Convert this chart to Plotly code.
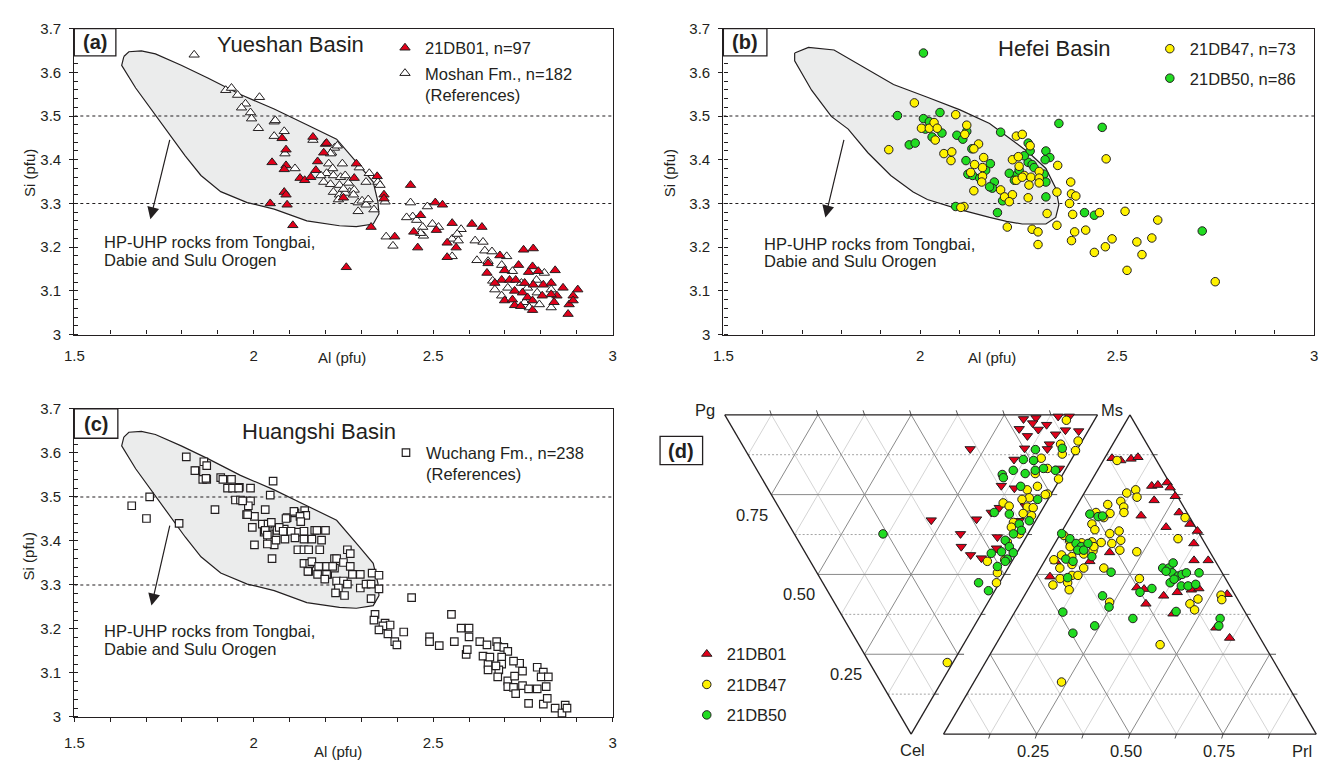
import plotly.graph_objects as go

W, H = 1325, 767
INK = "#231f20"
RED = "#e2001a"
YELLOW = "#fff200"
GREEN = "#21dc21"
FIELD = "#ebecec"
FONT = "Liberation Sans"

# ---------------- data: Al vs Si (pfu) ----------------
al_range = [1.5, 3.0]
si_range = [3.0, 3.7]
si_lines = [3.5, 3.3]

# (a) Yueshan Basin
a_21DB01 = [(2.165,3.452),(2.200,3.436),(2.090,3.423),(2.195,3.416),(2.079,3.449),(2.051,3.394),(2.090,3.387),
    (2.085,3.378),(2.178,3.396),(2.173,3.376),(2.129,3.358),(2.142,3.353),(2.159,3.360),(2.286,3.391),(2.344,3.362),
    (2.280,3.358),(2.085,3.326),(2.090,3.320),(2.046,3.300),(2.093,3.297),(2.250,3.313),(2.363,3.320),(2.363,3.311),
    (2.109,3.250),(2.327,3.246),(2.393,3.224),(2.203,3.438),(2.437,3.342),(2.506,3.302),(2.526,3.297),(2.465,3.273),
    (2.446,3.235),(2.509,3.239),(2.553,3.255),(2.608,3.253),(2.636,3.246),(2.539,3.210),(2.564,3.199),(2.457,3.199),
    (2.539,3.177),(2.258,3.154),(2.686,3.181),(2.752,3.194),(2.779,3.197),(2.653,3.163),(2.650,3.141),(2.738,3.159),
    (2.699,3.147),(2.691,3.125),(2.713,3.125),(2.730,3.125),(2.672,3.118),(2.777,3.156),(2.766,3.143),(2.793,3.145),
    (2.840,3.147),(2.755,3.118),(2.779,3.114),(2.807,3.114),(2.829,3.118),(2.862,3.107),(2.903,3.103),(2.890,3.089),
    (2.845,3.089),(2.829,3.092),(2.727,3.100),(2.749,3.096),(2.699,3.078),(2.721,3.080),(2.763,3.085),(2.777,3.078),
    (2.804,3.089),(2.837,3.074),(2.879,3.069),(2.890,3.078),(2.727,3.067),(2.744,3.065),(2.777,3.056),(2.876,3.047)]
a_moshan = [(1.834,3.640),(1.922,3.559),(1.938,3.564),(1.955,3.548),(2.016,3.543),(1.977,3.528),(1.966,3.519),
    (1.991,3.508),(1.994,3.494),(2.013,3.472),(2.057,3.487),(2.057,3.454),(2.085,3.465),(2.087,3.414),(2.115,3.380),
    (2.165,3.445),(2.217,3.416),(2.225,3.427),(2.060,3.490),(2.233,3.432),(2.214,3.414),(2.209,3.391),(2.247,3.391),
    (2.220,3.380),(2.203,3.369),(2.187,3.364),(2.222,3.364),(2.242,3.360),(2.255,3.364),(2.294,3.382),(2.322,3.369),
    (2.313,3.349),(2.346,3.349),(2.352,3.342),(2.195,3.349),(2.214,3.344),(2.239,3.342),(2.264,3.347),(2.267,3.326),
    (2.280,3.331),(2.222,3.326),(2.239,3.320),(2.278,3.320),(2.236,3.309),(2.255,3.324),(2.291,3.302),(2.302,3.306),
    (2.313,3.297),(2.335,3.286),(2.291,3.282),(2.366,3.304),(2.250,3.333),(2.319,3.309),(2.437,3.302),(2.443,3.270),
    (2.426,3.268),(2.454,3.262),(2.484,3.293),(2.471,3.246),(2.498,3.253),(2.515,3.246),(2.473,3.226),(2.465,3.232),
    (2.369,3.224),(2.388,3.203),(2.553,3.219),(2.570,3.215),(2.578,3.241),(2.567,3.230),(2.553,3.179),(2.617,3.215),
    (2.639,3.212),(2.644,3.192),(2.664,3.190),(2.622,3.170),(2.653,3.168),(2.705,3.179),(2.691,3.159),(2.721,3.145),
    (2.666,3.123),(2.672,3.103),(2.691,3.089),(2.708,3.107),(2.746,3.118),(2.763,3.107),(2.788,3.125),(2.810,3.141),
    (2.829,3.103),(2.790,3.096),(2.755,3.074),(2.768,3.062),(2.796,3.069),(2.829,3.062)]

# (b) Hefei Basin
b_21DB47 = [(1.985,3.530),(1.920,3.423),(2.003,3.472),(2.023,3.472),(2.035,3.485),(2.043,3.472),(2.038,3.445),
    (2.090,3.503),(2.118,3.479),(2.113,3.458),(2.060,3.414),(2.080,3.418),(2.078,3.398),(2.148,3.436),(2.136,3.425),
    (2.161,3.405),(2.138,3.389),(2.158,3.382),(2.158,3.362),(2.128,3.371),(2.156,3.349),(2.136,3.329),(2.111,3.293),
    (2.103,3.291),(2.244,3.454),(2.259,3.458),(2.279,3.432),(2.234,3.400),(2.249,3.407),(2.251,3.385),(2.264,3.364),
    (2.281,3.360),(2.302,3.373),(2.302,3.358),(2.302,3.347),(2.276,3.342),(2.244,3.353),(2.259,3.360),(2.204,3.331),
    (2.214,3.315),(2.234,3.320),(2.226,3.304),(2.274,3.313),(2.349,3.387),(2.347,3.326),(2.322,3.277),(2.347,3.250),
    (2.284,3.241),(2.299,3.235),(2.221,3.246),(2.382,3.349),(2.384,3.322),(2.379,3.300),(2.387,3.275),(2.472,3.402),
    (2.395,3.317),(2.299,3.206),(2.384,3.215),(2.392,3.235),(2.420,3.239),(2.455,3.279),(2.442,3.188),(2.470,3.201),
    (2.487,3.219),(2.520,3.282),(2.550,3.212),(2.563,3.183),(2.588,3.221),(2.603,3.262),(2.525,3.147),(2.749,3.121)]
b_21DB50 = [(2.008,3.644),(1.942,3.501),(2.008,3.494),(2.050,3.508),(2.023,3.487),(2.013,3.470),(2.030,3.452),
    (2.055,3.461),(1.972,3.434),(1.987,3.438),(2.093,3.456),(2.118,3.465),(2.108,3.447),(2.131,3.425),(2.116,3.398),
    (2.178,3.391),(2.166,3.376),(2.121,3.367),(2.133,3.364),(2.188,3.349),(2.183,3.335),(2.209,3.306),(2.204,3.463),
    (2.274,3.438),(2.279,3.420),(2.319,3.420),(2.329,3.405),(2.317,3.400),(2.274,3.394),(2.284,3.389),(2.244,3.364),
    (2.239,3.353),(2.314,3.367),(2.319,3.349),(2.319,3.315),(2.196,3.279),(2.090,3.293),(2.352,3.483),(2.462,3.474),
    (2.417,3.279),(2.442,3.273),(2.716,3.237),(2.151,3.358),(2.176,3.338),(2.251,3.376),(2.289,3.382),(2.264,3.409),
    (2.226,3.369)]

# (c) Huangshi Basin
c_wuchang = [(1.660,3.480),(1.710,3.500),(1.701,3.451),(1.792,3.440),(1.812,3.591),(1.839,3.560),(1.861,3.580),
    (1.869,3.571),(1.858,3.540),(1.869,3.540),(1.892,3.471),(1.908,3.544),(1.914,3.540),(1.938,3.540),(1.927,3.520),
    (1.941,3.520),(1.960,3.522),(1.949,3.493),(1.963,3.493),(1.991,3.520),(1.991,3.491),(1.985,3.480),(1.980,3.460),
    (2.002,3.456),(1.996,3.431),(2.002,3.391),(2.024,3.438),(2.029,3.420),(2.040,3.438),(2.043,3.416),(2.046,3.398),
    (2.051,3.360),(2.057,3.391),(2.062,3.402),(2.054,3.536),(2.046,3.504),(2.032,3.471),(2.065,3.424),(2.085,3.427),
    (2.093,3.453),(2.087,3.404),(2.115,3.464),(2.142,3.469),(2.145,3.458),(2.170,3.424),(2.200,3.424),(2.189,3.402),
    (2.120,3.420),(2.140,3.349),(2.156,3.349),(2.153,3.331),(2.184,3.342),(2.206,3.324),(2.225,3.338),(2.225,3.360),
    (2.184,3.380),(1.836,3.560),(1.867,3.542),(1.958,3.520),(1.969,3.491),(1.983,3.460),(2.049,3.442),(2.032,3.424),
    (2.071,3.431),(2.038,3.413),(2.090,3.451),(2.112,3.467),(2.129,3.456),(2.131,3.444),(2.082,3.422),(2.104,3.422),
    (2.140,3.422),(2.176,3.424),(2.115,3.407),(2.140,3.404),(2.162,3.404),(2.038,3.393),(2.123,3.380),(2.140,3.380),
    (2.153,3.380),(2.261,3.380),(2.269,3.371),(2.162,3.353),(2.181,3.342),(2.203,3.342),(2.220,3.342),(2.231,3.360),
    (2.250,3.351),(2.269,3.342),(2.151,3.331),(2.178,3.324),(2.203,3.324),(2.198,3.313),(2.231,3.309),(2.250,3.309),
    (2.275,3.324),(2.297,3.324),(2.330,3.327),(2.349,3.322),(2.236,3.293),(2.261,3.302),(2.228,3.282),(2.253,3.276),
    (2.297,3.293),(2.313,3.302),(2.327,3.302),(2.349,3.291),(2.327,3.269),(2.338,3.233),(2.335,3.220),(2.366,3.213),
    (2.380,3.209),(2.440,3.271),(2.360,3.207),(2.349,3.198),(2.374,3.189),(2.393,3.171),(2.399,3.164),(2.418,3.193),
    (2.551,3.233),(2.490,3.182),(2.490,3.171),(2.517,3.162),(2.559,3.171),(2.578,3.202),(2.600,3.202),(2.600,3.182),
    (2.592,3.142),(2.595,3.153),(2.630,3.171),(2.650,3.164),(2.639,3.138),(2.653,3.120),(2.658,3.136),(2.653,3.107),
    (2.677,3.171),(2.680,3.160),(2.697,3.158),(2.708,3.149),(2.691,3.136),(2.691,3.120),(2.683,3.107),(2.680,3.091),
    (2.708,3.082),(2.708,3.069),(2.724,3.067),(2.730,3.053),(2.727,3.093),(2.749,3.071),(2.749,3.104),(2.741,3.122),
    (2.724,3.127),(2.766,3.064),(2.790,3.064),(2.790,3.113),(2.807,3.102),(2.801,3.091),(2.821,3.091),(2.815,3.069),
    (2.766,3.031),(2.807,3.029),(2.818,3.042),(2.840,3.020),(2.859,3.009),(2.868,3.027),(2.873,3.020),(2.675,3.116)]

# HP-UHP field (Tongbai, Dabie, Sulu), outline in Al-Si space
field_ac = [(1.638,3.636),(1.652,3.647),(1.687,3.649),(1.726,3.642),(1.798,3.616),(1.872,3.587),(1.963,3.549),
    (2.057,3.516),(2.148,3.480),(2.231,3.447),(2.294,3.387),(2.333,3.349),(2.346,3.304),(2.349,3.276),(2.333,3.253),
    (2.286,3.247),(2.239,3.249),(2.148,3.260),(2.057,3.287),(1.982,3.302),(1.908,3.327),(1.853,3.364),(1.809,3.409),
    (1.770,3.453),(1.726,3.504),(1.671,3.564),(1.632,3.616)]
field_b = [(1.681,3.644),(1.716,3.657),(1.781,3.651),(1.849,3.615),(1.932,3.572),(2.018,3.543),(2.101,3.514),
    (2.176,3.483),(2.226,3.449),(2.276,3.416),(2.319,3.380),(2.344,3.335),(2.352,3.297),(2.344,3.268),(2.319,3.253),
    (2.259,3.253),(2.219,3.259),(2.176,3.268),(2.101,3.286),(2.018,3.309),(1.982,3.326),(1.925,3.364),(1.867,3.416),
    (1.817,3.470),(1.774,3.499),(1.724,3.559),(1.681,3.626)]

# arrows pointing to the field: (tail Al, tail Si, head Al, head Si)
arrow_a = (1.767, 3.449, 1.712, 3.264)
arrow_b = (1.807, 3.449, 1.759, 3.268)
arrow_c = (1.767, 3.438, 1.715, 3.253)

# (d) ternary data. Left triangle Pg-Ms-Cel: (Ms, Cel), Pg = 1 - Ms - Cel
dL_21DB01 = [(0.795,0.013),(0.830,0.010),(0.892,0.005),(0.922,0.005),(0.813,0.026),(0.848,0.031),(0.768,0.044),
    (0.818,0.046),(0.890,0.048),(0.924,0.051),(0.857,0.061),(0.779,0.066),(0.825,0.092),(0.752,0.105),(0.605,0.107),
    (0.812,0.107),(0.706,0.140),(0.814,0.168),(0.631,0.222),(0.662,0.230),(0.591,0.291),(0.562,0.306),(0.389,0.330),
    (0.512,0.327),(0.446,0.373),(0.540,0.383),(0.428,0.413),(0.440,0.439),(0.464,0.449),(0.520,0.418),(0.663,0.286),
    (0.624,0.332)]
dL_21DB47 = [(0.908,0.017),(0.907,0.082),(0.885,0.112),(0.855,0.092),(0.844,0.123),(0.781,0.136),(0.782,0.168),
    (0.741,0.184),(0.795,0.201),(0.727,0.224),(0.694,0.235),(0.687,0.260),(0.742,0.248),(0.609,0.276),(0.620,0.286),
    (0.665,0.265),(0.667,0.289),(0.682,0.291),(0.646,0.309),(0.665,0.316),(0.606,0.337),(0.593,0.352),(0.604,0.373),
    (0.559,0.398),(0.484,0.495),(0.466,0.526),(0.209,0.776),(0.475,0.459),(0.524,0.454),(0.735,0.250)]
dL_21DB50 = [(0.853,0.105),(0.779,0.109),(0.731,0.140),(0.757,0.143),(0.651,0.187),(0.687,0.174),(0.649,0.197),
    (0.714,0.184),(0.746,0.174),(0.771,0.168),(0.800,0.174),(0.682,0.224),(0.707,0.265),(0.608,0.311),(0.570,0.306),
    (0.619,0.342),(0.615,0.362),(0.588,0.373),(0.556,0.393),(0.557,0.413),(0.528,0.429),(0.558,0.432),(0.532,0.452),
    (0.498,0.434),(0.494,0.475),(0.523,0.459),(0.418,0.526),(0.432,0.551),(0.238,0.373),(0.651,0.332)]
# Right triangle Ms-Cel-Prl: (Ms, Prl), Cel = 1 - Ms - Prl
dR_21DB01 = [(0.864,0.020),(0.857,0.047),(0.862,0.072),(0.867,0.088),(0.777,0.170),(0.780,0.185),(0.788,0.206),
    (0.772,0.222),(0.745,0.249),(0.732,0.199),(0.684,0.188),(0.694,0.285),(0.658,0.332),(0.648,0.273),(0.636,0.363),
    (0.597,0.373),(0.544,0.400),(0.544,0.438),(0.569,0.161),(0.541,0.122),(0.541,0.031),(0.493,0.039),(0.459,0.289),
    (0.454,0.311),(0.408,0.339),(0.433,0.374),(0.444,0.405),(0.452,0.439),(0.456,0.457),(0.377,0.427),(0.438,0.542),
    (0.333,0.564),(0.301,0.617)]
dR_21DB47 = [(0.857,0.037),(0.765,0.133),(0.742,0.148),(0.755,0.114),(0.719,0.081),(0.729,0.111),(0.711,0.128),
    (0.694,0.137),(0.691,0.101),(0.694,0.062),(0.678,0.091),(0.658,0.069),(0.640,0.086),(0.628,0.132),(0.636,0.153),
    (0.607,0.172),(0.597,0.153),(0.576,0.185),(0.600,0.123),(0.602,0.097),(0.599,0.071),(0.605,0.036),(0.622,0.012),
    (0.561,0.036),(0.556,0.066),(0.564,0.094),(0.574,0.114),(0.571,0.233),(0.546,0.023),(0.520,0.052),(0.531,0.079),
    (0.520,0.116),(0.520,0.170),(0.487,0.069),(0.497,0.096),(0.497,0.112),(0.467,0.060),(0.474,0.096),(0.452,0.111),
    (0.413,0.239),(0.487,0.282),(0.612,0.323),(0.678,0.309),(0.423,0.471),(0.408,0.457),(0.389,0.479),(0.435,0.527),
    (0.421,0.536),(0.280,0.441),(0.163,0.235),(0.587,0.110),(0.587,0.046)]
dR_21DB50 = [(0.689,0.048),(0.681,0.074),(0.683,0.085),(0.628,0.003),(0.612,0.033),(0.597,0.057),(0.587,0.076),
    (0.597,0.089),(0.576,0.072),(0.576,0.088),(0.548,0.054),(0.541,0.077),(0.490,0.088),(0.556,0.120),(0.507,0.196),
    (0.433,0.210),(0.398,0.245),(0.382,0.129),(0.316,0.189),(0.339,0.236),(0.362,0.327),(0.456,0.331),(0.520,0.328),
    (0.520,0.345),(0.536,0.348),(0.505,0.361),(0.495,0.382),(0.500,0.390),(0.505,0.399),(0.505,0.433),(0.464,0.406),
    (0.464,0.424),(0.469,0.442),(0.474,0.371),(0.384,0.432),(0.362,0.561),(0.339,0.569),(0.444,0.305),(0.510,0.342),
    (0.485,0.376)]
d_ticks = [0.25, 0.50, 0.75]

# ---------------- layout helpers ----------------
def xdom(x0, x1):
    return [x0 / W, x1 / W]

def ydom(top, bottom):
    return [1 - bottom / H, 1 - top / H]

def pann(xp, yp, text, size, xanchor="center", yanchor="middle", bold=False, angle=0):
    return dict(x=xp / W, y=1 - yp / H, xref="paper", yref="paper", text=("<b>%s</b>" % text) if bold else text,
                showarrow=False, xanchor=xanchor, yanchor=yanchor, textangle=angle,
                font=dict(family=FONT, size=size, color=INK))

fig = go.Figure()

def pts_trace(pts, xa, ya, name, symbol, color, size, legend=None, rank=1000, lw=1.0):
    fig.add_trace(go.Scatter(
        x=[p[0] for p in pts], y=[p[1] for p in pts], xaxis=xa, yaxis=ya, mode="markers", name=name,
        marker=dict(symbol=symbol, color=color, size=size, line=dict(color=INK, width=lw)),
        showlegend=legend is not None, legend=legend or "legend", legendrank=rank,
        legendgroup=name + str(legend), hoverinfo="skip"))

def field_trace(poly, xa, ya):
    xs = [p[0] for p in poly] + [poly[0][0]]
    ys = [p[1] for p in poly] + [poly[0][1]]
    fig.add_trace(go.Scatter(x=xs, y=ys, xaxis=xa, yaxis=ya, mode="lines", fill="toself", fillcolor=FIELD,
                             line=dict(color=INK, width=1.2), showlegend=False, hoverinfo="skip"))

def ref_lines(xa, ya):
    xs, ys = [], []
    for s in si_lines:
        xs += [al_range[0], al_range[1], None]
        ys += [s, s, None]
    fig.add_trace(go.Scatter(x=xs, y=ys, xaxis=xa, yaxis=ya, mode="lines",
                             line=dict(color=INK, width=1.1, dash="3px,3px"), showlegend=False, hoverinfo="skip"))

# panel (a)
field_trace(field_ac, "x", "y")
ref_lines("x", "y")
pts_trace(a_moshan, "x", "y", "Moshan Fm., n=182<br>(References)", "triangle-up", "white", 9, "legend", 2)
pts_trace(a_21DB01, "x", "y", "21DB01, n=97", "triangle-up", RED, 9, "legend", 1)
# panel (b)
field_trace(field_b, "x2", "y2")
ref_lines("x2", "y2")
pts_trace(b_21DB50, "x2", "y2", "21DB50, n=86", "circle", GREEN, 8.5, "legend2", 2)
pts_trace(b_21DB47, "x2", "y2", "21DB47, n=73", "circle", YELLOW, 8.5, "legend2", 1)
# panel (c)
field_trace(field_ac, "x3", "y3")
ref_lines("x3", "y3")
pts_trace(c_wuchang, "x3", "y3", "Wuchang Fm., n=238<br>(References)", "square", "white", 7.5, "legend3", 1, 1.2)

# panel (d): two ternary triangles drawn on a hidden cartesian plane
D_GAP = 0.587  # horizontal shift (triangle widths) of the Ms-Cel-Prl triangle

def left_xy(pg, ms, cel):   # vertices Pg(0,1), Ms(1,1), Cel(0.5,0)
    return ms + 0.5 * cel, pg + ms

def right_xy(ms, cel, prl):  # vertices Cel(G,0), Prl(G+1,0), Ms(G+0.5,1)
    return D_GAP + 0.5 * ms + prl, ms

def seg_trace(segs, color, width, dash="solid"):
    xs, ys = [], []
    for (x0, y0), (x1, y1) in segs:
        xs += [x0, x1, None]
        ys += [y0, y1, None]
    fig.add_trace(go.Scatter(x=xs, y=ys, xaxis="x4", yaxis="y4", mode="lines",
                             line=dict(color=color, width=width, dash=dash), showlegend=False, hoverinfo="skip"))

EXT = 0.017
major, minor_slant, minor_h, ticks = [], [], [], []
for k in range(1, 8):
    c = k / 8
    h = (left_xy(1 - c, 0, c), left_xy(0, 1 - c, c))
    s1 = (left_xy(c, 1 - c, 0), left_xy(c, 0, 1 - c))
    s2 = (left_xy(1 - c, c, 0), left_xy(0, c, 1 - c))
    hr = (right_xy(c, 1 - c, 0), right_xy(c, 0, 1 - c))
    r1 = (right_xy(1 - c, c, 0), right_xy(0, c, 1 - c))
    r2 = (right_xy(1 - c, 0, c), right_xy(0, 1 - c, c))
    if k % 2 == 0:
        major += [h, s1, s2, hr, r1, r2]
        ticks += [((h[1][0], h[1][1]), (h[1][0] + EXT, h[1][1])), ((hr[1][0], hr[1][1]), (hr[1][0] + EXT, hr[1][1]))]
    else:
        minor_slant += [s1, s2, r1, r2]
        minor_h += [h, hr]
        ticks += [((h[1][0], h[1][1]), (h[1][0] + EXT * 0.7, h[1][1])),
                  ((hr[1][0], hr[1][1]), (hr[1][0] + EXT * 0.7, hr[1][1]))]
    tx, ty = left_xy(1 - c, c, 0)
    ticks.append(((tx, ty), (tx - 0.004, ty + 0.014)))
    bx, by = right_xy(0, 1 - c, c)
    ticks.append(((bx, by), (bx - 0.004, by - 0.014)))

seg_trace(minor_slant, "#c9c9c9", 0.8)
seg_trace(minor_h, "#9a9a9a", 0.9, "2px,2px")
seg_trace(major, "#8a8a8a", 1.0)
seg_trace(ticks, "#555555", 1.0)
L = [left_xy(1, 0, 0), left_xy(0, 1, 0), left_xy(0, 0, 1), left_xy(1, 0, 0)]
R = [right_xy(1, 0, 0), right_xy(0, 1, 0), right_xy(0, 0, 1), right_xy(1, 0, 0)]
seg_trace([(L[i], L[i + 1]) for i in range(3)] + [(R[i], R[i + 1]) for i in range(3)], INK, 1.3)

def ternL(pts):
    return [left_xy(1 - ms - cel, ms, cel) for ms, cel in pts]

def ternR(pts):
    return [right_xy(ms, 1 - ms - prl, prl) for ms, prl in pts]

pts_trace(ternL(dL_21DB01), "x4", "y4", "21DB01", "triangle-down", RED, 9)
pts_trace(ternR(dR_21DB01), "x4", "y4", "21DB01", "triangle-up", RED, 9, "legend4", 1)
pts_trace(ternL(dL_21DB47), "x4", "y4", "21DB47", "circle", YELLOW, 8.5)
pts_trace(ternR(dR_21DB47), "x4", "y4", "21DB47", "circle", YELLOW, 8.5, "legend4", 2)
pts_trace(ternL(dL_21DB50), "x4", "y4", "21DB50", "circle", GREEN, 8.5)
pts_trace(ternR(dR_21DB50), "x4", "y4", "21DB50", "circle", GREEN, 8.5, "legend4", 3)

# ---------------- axes ----------------
TF = dict(family=FONT, size=15, color=INK)

def x_axis(dom, anchor, tdir, standoff):
    return dict(domain=dom, anchor=anchor, range=al_range, tick0=1.5, dtick=0.5, ticks=tdir, ticklen=4,
                tickwidth=1, tickcolor=INK,
                minor=dict(tick0=1.5, dtick=0.1, ticks=tdir, ticklen=4, tickwidth=1, tickcolor=INK),
                showline=True, linecolor=INK, linewidth=1.3, mirror=True, showgrid=False, zeroline=False,
                tickfont=TF, ticklabelstandoff=standoff, fixedrange=True)

def y_axis(dom, anchor):
    return dict(domain=dom, anchor=anchor, range=si_range, tick0=3, dtick=0.1, ticks="outside", ticklen=4,
                tickwidth=1, tickcolor=INK,
                minor=dict(tick0=3, dtick=0.02, ticks="inside", ticklen=4, tickwidth=1, tickcolor=INK),
                showline=True, linecolor=INK, linewidth=1.3, mirror=True, showgrid=False, zeroline=False,
                tickfont=TF, ticklabelstandoff=5, fixedrange=True)

DX0, DXU, DY0, DYU = 722.4, 376.7, 741.5, 326.5  # pixel placement of the ternary plane
fig.update_layout(
    width=W, height=H, margin=dict(l=0, r=0, t=0, b=0), paper_bgcolor="white", plot_bgcolor="white",
    font=dict(family=FONT, color=INK),
    xaxis=x_axis(xdom(65, 609), "y", "inside", 7),
    yaxis=y_axis(ydom(20, 333), "x"),
    xaxis2=x_axis(xdom(721, 1318), "y2", "inside", 7),
    yaxis2=y_axis(ydom(20, 333), "x2"),
    xaxis3=x_axis(xdom(65, 609), "y3", "outside", 8),
    yaxis3=y_axis(ydom(409, 724), "x3"),
    xaxis4=dict(domain=xdom(690, 1325), anchor="y4", range=[(690 - DX0) / DXU, (1325 - DX0) / DXU], visible=False,
                fixedrange=True),
    yaxis4=dict(domain=ydom(395, 767), anchor="x4", range=[(DY0 - 767) / DYU, (DY0 - 395) / DYU], visible=False,
                fixedrange=True),
)

LF = dict(family=FONT, size=16.5, color=INK)
def legend_at(xp, yp, gap):
    return dict(x=xp / W, y=1 - yp / H, xanchor="left", yanchor="top", bgcolor="rgba(0,0,0,0)", font=LF,
                tracegroupgap=gap, valign="top", itemclick=False, itemdoubleclick=False)

fig.update_layout(legend=legend_at(379, 22, 1), legend2=legend_at(1152, 23, 5),
                  legend3=legend_at(380, 436, 2), legend4=legend_at(684, 642, 6))

# ---------------- annotations ----------------
ann = [
    pann(283, 36, "Yueshan Basin", 22), pann(1056, 40, "Hefei Basin", 22), pann(312, 432, "Huangshi Basin", 22),
    pann(86, 34, "(a)", 20, bold=True), pann(743, 34, "(b)", 20, bold=True), pann(87, 424, "(c)", 20, bold=True),
    pann(678, 452, "(d)", 20, bold=True),
    pann(19, 168, "Si (pfu)", 15, angle=-90), pann(666, 168, "Si (pfu)", 15, angle=-90),
    pann(19, 560, "Si (pfu)", 15, angle=-90),
    pann(336, 356, "Al (pfu)", 15), pann(992, 356, "Al (pfu)", 15), pann(331, 759, "Al (pfu)", 15),
]
for (x0, y0), (xs, ys) in [((93, 238), (93, 257)), ((760, 240), (760, 258)), ((93, 636), (93, 654))]:
    ann.append(pann(x0, y0, "HP-UHP rocks from Tongbai,", 16.5, xanchor="left"))
    ann.append(pann(xs, ys, "Dabie and Sulu Orogen", 16.5, xanchor="left"))
for (t_al, t_si, h_al, h_si), xa, ya in [(arrow_a, "x", "y"), (arrow_b, "x2", "y2"), (arrow_c, "x3", "y3")]:
    ann.append(dict(x=h_al, y=h_si, xref=xa, yref=ya, ax=t_al, ay=t_si, axref=xa, ayref=ya, text="",
                    showarrow=True, arrowhead=2, arrowsize=2.0, arrowwidth=1.2, arrowcolor=INK, standoff=0))

def dann(xy, text, dx, dy, xanchor="center"):
    return dict(x=xy[0], y=xy[1], xref="x4", yref="y4", text=text, showarrow=False, xshift=dx, yshift=dy,
                xanchor=xanchor, font=dict(family=FONT, size=16.5, color=INK))

for p in d_ticks:
    ann.append(dann(left_xy(p, 0, 1 - p), "%.2f" % p, -19, -20))
    ann.append(dann(right_xy(0, 1 - p, p), "%.2f" % p, -4, -17))
ann += [dann(left_xy(1, 0, 0), "Pg", -20, 5), dann(left_xy(0, 1, 0), "Ms", 15, 5),
        dann(left_xy(0, 0, 1), "Cel", 1, -16), dann(right_xy(0, 0, 1), "Prl", -2, -17, xanchor="right")]
fig.update_layout(annotations=ann)

box = dict(type="rect", xref="paper", yref="paper", line=dict(color=INK, width=1.3), fillcolor="white", layer="above")
shapes = []
for x0, x1, y0, y1 in [(65, 107, 20, 48), (721, 765, 20, 48), (65, 109, 409, 439), (657, 700, 437, 466)]:
    s = dict(box)
    s.update(x0=x0 / W, x1=x1 / W, y0=1 - y1 / H, y1=1 - y0 / H)
    shapes.append(s)
fig.update_layout(shapes=shapes)

fig.write_html("out.html")
